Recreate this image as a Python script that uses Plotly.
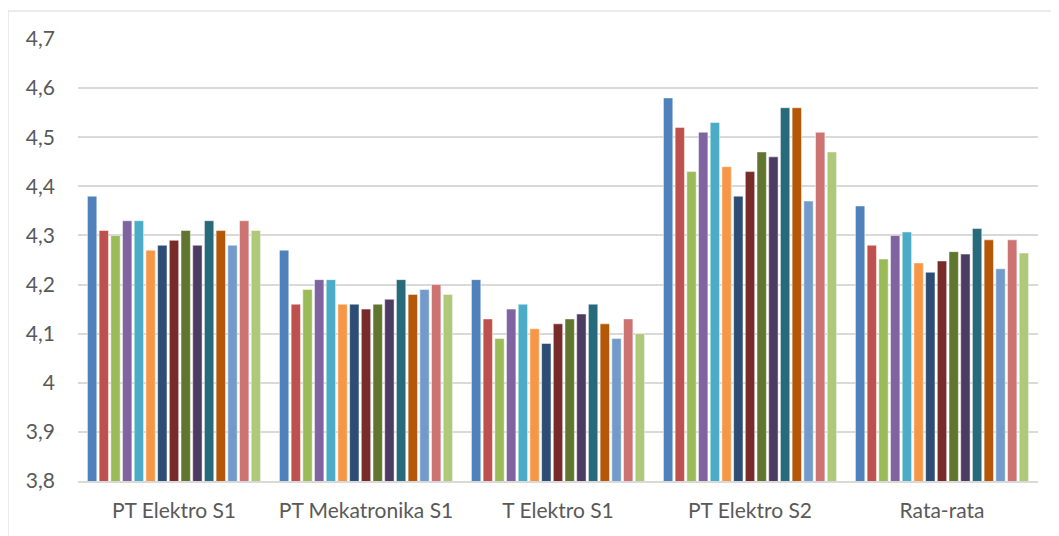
import plotly.graph_objects as go

categories = ["PT Elektro S1", "PT Mekatronika S1", "T Elektro S1", "PT Elektro S2", "Rata-rata"]

# one series per bar colour (15 per group)
s01 = [4.38, 4.27, 4.21, 4.58, 4.36]
s02 = [4.31, 4.16, 4.13, 4.52, 4.28]
s03 = [4.30, 4.19, 4.09, 4.43, 4.252]
s04 = [4.33, 4.21, 4.15, 4.51, 4.30]
s05 = [4.33, 4.21, 4.16, 4.53, 4.307]
s06 = [4.27, 4.16, 4.11, 4.44, 4.244]
s07 = [4.28, 4.16, 4.08, 4.38, 4.225]
s08 = [4.29, 4.15, 4.12, 4.43, 4.248]
s09 = [4.31, 4.16, 4.13, 4.47, 4.267]
s10 = [4.28, 4.17, 4.14, 4.46, 4.262]
s11 = [4.33, 4.21, 4.16, 4.56, 4.314]
s12 = [4.31, 4.18, 4.12, 4.56, 4.291]
s13 = [4.28, 4.19, 4.09, 4.37, 4.232]
s14 = [4.33, 4.20, 4.13, 4.51, 4.291]
s15 = [4.31, 4.18, 4.10, 4.47, 4.264]

series = [s01, s02, s03, s04, s05, s06, s07, s08, s09, s10, s11, s12, s13, s14, s15]

COLORS = [
    "#4F81BD", "#C0504D", "#9BBB59", "#8064A2", "#4BACC6", "#F79646",
    "#2C4D75", "#772C2A", "#5F7530", "#4D3B62", "#276A7C", "#B65708",
    "#729ACA", "#CD7371", "#AFC97A",
]

fig = go.Figure()
for i, vals in enumerate(series):
    fig.add_trace(go.Bar(
        x=categories, y=vals, name=f"Seri {i + 1}",
        marker={"color": COLORS[i], "line": {"color": "rgba(255,255,255,0.6)", "width": 0.8}},
    ))

# margins account for the 8px body margin of the html page
fig.update_layout(
    barmode="group",
    bargap=0.086,
    bargroupgap=0.2,
    showlegend=False,
    separators=",.",
    paper_bgcolor="white",
    plot_bgcolor="white",
    width=1059,
    height=536,
    font={"family": "Lato, Noto Sans, sans-serif", "color": "#595959", "size": 21},
    margin={"l": 70, "r": 29, "t": 31, "b": 63},
    shapes=[{
        "type": "rect", "xref": "paper", "yref": "paper",
        "x0": -0.0729, "x1": 1.2, "y0": -0.3, "y1": 1.0633,
        "line": {"color": "#D9D9D9", "width": 1}, "layer": "below",
    }],
)
fig.update_xaxes(
    showline=True, linecolor="#D9D9D9", linewidth=1.5,
    ticks="", ticklabelstandoff=10, showgrid=False,
)
fig.update_yaxes(
    range=[3.8, 4.7], dtick=0.1, tick0=3.8,
    showgrid=True, gridcolor="#D9D9D9", gridwidth=1.5,
    zeroline=False, showline=False, ticks="", ticklabelstandoff=22,
)

fig.write_html("out.html")
